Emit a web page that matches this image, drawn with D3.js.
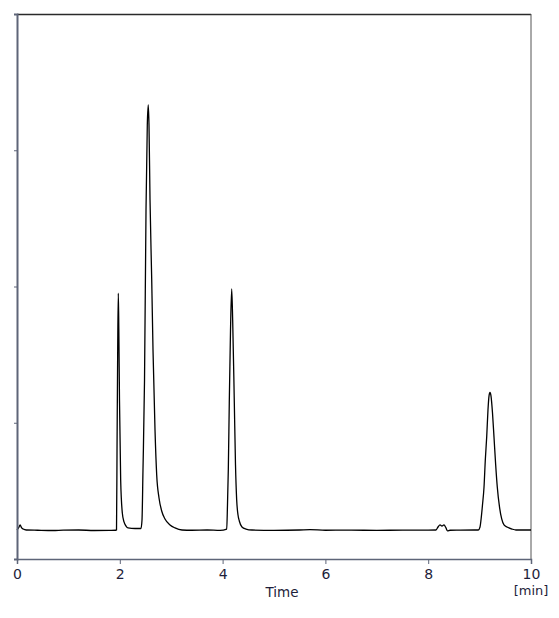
<!DOCTYPE html>
<html>
<head>
<meta charset="utf-8">
<script src="https://cdn.jsdelivr.net/npm/d3@7"></script>
<style>
  body { margin: 0; background: #fff; }
  text { font-family: "DejaVu Sans", Verdana, sans-serif; fill: #1e1e3a; }
</style>
</head>
<body>
<div id="chart"></div>
<script>
// retention time [min] and detector signal (arbitrary units)
const times = [
  0.00, 0.04, 0.06, 0.09, 0.12, 0.18, 0.40, 0.70, 0.90, 1.20, 1.50, 1.80, 1.92,
  1.936, 1.946, 1.959, 1.971, 1.981, 1.994, 2.017, 2.049, 2.082, 2.121, 2.160, 2.296, 2.412,
  2.432, 2.451, 2.481, 2.510, 2.535, 2.554, 2.568, 2.588, 2.621, 2.646, 2.685, 2.718, 2.763,
  2.815, 2.879, 2.977, 3.074, 3.210,
  3.40, 3.70, 3.95,
  4.080, 4.095, 4.111, 4.130, 4.154, 4.177, 4.196, 4.228, 4.251, 4.274, 4.300, 4.325, 4.377,
  4.455, 4.572,
  5.00, 5.50, 5.70, 6.00, 6.50, 7.00, 7.50, 8.00,
  8.152, 8.191, 8.230, 8.268, 8.307, 8.346, 8.375, 8.424,
  8.60, 8.90,
  8.975, 9.008, 9.027, 9.056, 9.086, 9.111, 9.138, 9.163, 9.183, 9.202, 9.222, 9.251, 9.280,
  9.313, 9.344, 9.387, 9.430, 9.475, 9.533, 9.630, 9.708, 10.00
];
const signal = [
  0.213, 0.235, 0.250, 0.228, 0.220, 0.213, 0.211, 0.209, 0.212, 0.213, 0.209, 0.210, 0.211,
  0.213, 0.800, 1.534, 1.952, 1.681, 1.167, 0.580, 0.338, 0.272, 0.242, 0.228, 0.224, 0.224,
  0.286, 0.653, 1.314, 2.561, 3.185, 3.332, 3.185, 2.635, 2.048, 1.534, 0.947, 0.617, 0.448,
  0.352, 0.294, 0.250, 0.228, 0.213,
  0.211, 0.213, 0.210,
  0.220, 0.396, 0.653, 1.145, 1.681, 1.982, 1.754, 1.145, 0.690, 0.433, 0.323, 0.279, 0.235,
  0.220, 0.213,
  0.210, 0.213, 0.216, 0.211, 0.212, 0.210, 0.212, 0.212,
  0.213, 0.235, 0.250, 0.242, 0.250, 0.228, 0.206, 0.211,
  0.212, 0.213,
  0.213, 0.235, 0.286, 0.396, 0.528, 0.727, 0.895, 1.094, 1.196, 1.222, 1.196, 1.072, 0.895,
  0.690, 0.528, 0.382, 0.294, 0.250, 0.235, 0.220, 0.213, 0.213
];
const xTicks = [0, 2, 4, 6, 8, 10];
const yTicks = [1, 2, 3, 4];

const width = 559, height = 618;
const margin = { top: 14, right: 28, bottom: 59, left: 17 };
const innerW = width - margin.left - margin.right;
const innerH = height - margin.top - margin.bottom;

const svg = d3.select("#chart")
    .append("svg")
    .attr("width", width)
    .attr("height", height);

const g = svg.append("g")
    .attr("transform", `translate(${margin.left}, ${margin.top})`);

const x = d3.scaleLinear().domain([0, 10]).range([0, innerW]);
const y = d3.scaleLinear().domain([0, 4]).range([innerH, 0]);

// frame: top and right dark, left and bottom are the axes
g.append("line")
    .attr("x1", 0).attr("x2", innerW).attr("y1", 0.5).attr("y2", 0.5)
    .style("stroke", "#2a2a2a").style("stroke-width", 1.5);
g.append("line")
    .attr("x1", innerW).attr("x2", innerW).attr("y1", 0).attr("y2", innerH)
    .style("stroke", "#555").style("stroke-width", 1);

// trace
const points = times.map((t, i) => [t, signal[i]]);
const line = d3.line()
    .x(d => x(d[0]))
    .y(d => y(d[1]))
    .curve(d3.curveMonotoneX);

g.append("path")
    .datum(points)
    .attr("d", line)
    .style("fill", "none")
    .style("stroke", "#000")
    .style("stroke-width", 1.3);

// y axis, ticks only
const yAxis = g.append("g")
    .call(d3.axisLeft(y).tickValues(yTicks).tickSize(3).tickFormat(""));
yAxis.select(".domain").style("stroke", "#5e6578").style("stroke-width", 2);
yAxis.selectAll(".tick line").style("stroke", "#5e6578");

// x axis
const xAxis = g.append("g")
    .attr("transform", `translate(0, ${innerH})`)
    .call(d3.axisBottom(x).tickValues(xTicks).tickSize(5).tickPadding(5).tickFormat(d3.format("d")));
xAxis.select(".domain").style("stroke", "#5e6578").style("stroke-width", 1.5);
xAxis.selectAll(".tick line").style("stroke", "#5e6578");
xAxis.selectAll(".tick text")
    .style("font-size", "14px")
    .style("font-family", "DejaVu Sans, Verdana, sans-serif")
    .style("fill", "#1e1e3a");

svg.append("text")
    .attr("x", 282)
    .attr("y", 597)
    .attr("text-anchor", "middle")
    .style("font-size", "13.5px")
    .text("Time");

svg.append("text")
    .attr("x", margin.left + x(10))
    .attr("y", 595)
    .attr("text-anchor", "middle")
    .style("font-size", "13px")
    .text("[min]");
</script>
</body>
</html>
